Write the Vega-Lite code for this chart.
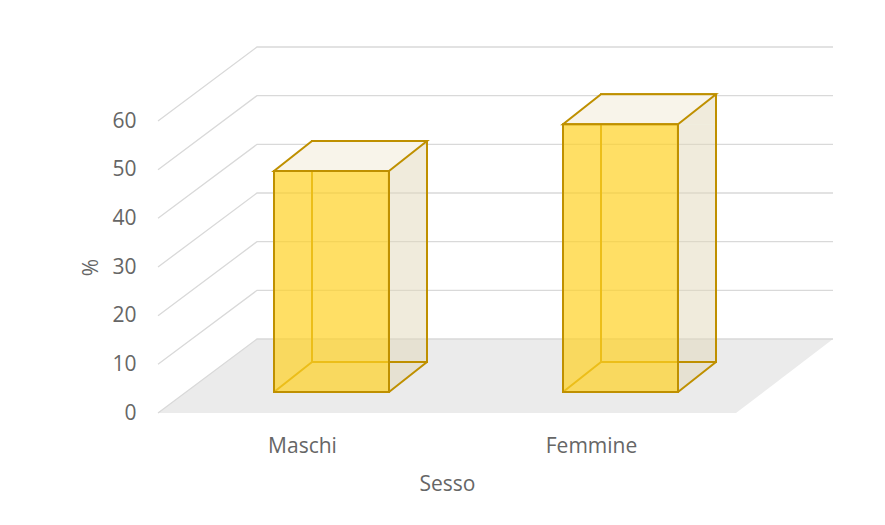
{
  "$schema": "https://vega.github.io/schema/vega-lite/v6.json",
  "autosize": "none",
  "width": 578,
  "height": 292,
  "padding": {"left": 158, "top": 121, "right": 149, "bottom": 112},
  "background": "white",
  "config": {
    "view": {"stroke": null},
    "font": "Open Sans",
    "axis": {"labelColor": "#666666", "titleColor": "#666666", "titleFontWeight": "normal", "labelFontSize": 21, "titleFontSize": 21, "ticks": false, "domain": false, "grid": false, "labelFont": "Open Sans", "titleFont": "Open Sans"}
  },
  "datasets": {
    "bars": [
      {"Sesso": "Maschi", "pct": 45.4},
      {"Sesso": "Femmine", "pct": 55.0}
    ],
    "ticks": [
      {"v": 0}, {"v": 10}, {"v": 20}, {"v": 30}, {"v": 40}, {"v": 50}, {"v": 60}
    ]
  },
  "resolve": {"scale": {"y": "shared", "x": "shared"}},
  "layer": [
    {
      "data": {"name": "ticks"},
      "transform": [{"filter": "datum.v == 0"}],
      "mark": {"type": "point", "shape": "M-289,0L289,0L386,-74L-190,-74Z", "size": 4, "filled": true, "fill": "#EBEBEB", "strokeWidth": 0, "opacity": 1},
      "encoding": {"y": {"field": "v", "type": "quantitative", "scale": {"domain": [0, 60], "nice": false}, "axis": {"values": [0, 10, 20, 30, 40, 50, 60], "labelPadding": 22, "title": "%", "titlePadding": 10}}}
    },
    {
      "data": {"name": "ticks"},
      "mark": {"type": "point", "shape": "M-289,0L-190,-74L386,-74", "size": 4, "filled": false, "stroke": "#D9D9D9", "strokeWidth": 1.3, "opacity": 1},
      "encoding": {"y": {"field": "v", "type": "quantitative"}}
    },
    {
      "data": {"name": "bars"},
      "mark": {"type": "bar", "width": 40, "xOffset": 104.5, "yOffset": -21, "y2Offset": -51, "color": "#E1D7B9", "opacity": 0.5},
      "encoding": {
        "x": {"field": "Sesso", "type": "nominal", "sort": ["Maschi", "Femmine"], "scale": {"paddingInner": 0, "paddingOuter": 0}, "axis": {"labelAngle": 0, "labelPadding": 22, "title": "Sesso", "titlePadding": 17}},
        "y": {"field": "pct", "type": "quantitative"},
        "y2": {"datum": 0}
      }
    },
    {
      "data": {"name": "bars"},
      "mark": {"type": "point", "shape": "M86.5,-21L124.5,-51L124.5,-21Z", "size": 4, "filled": true, "fill": "#E1D7B9", "opacity": 0.5, "strokeWidth": 0},
      "encoding": {
        "x": {"field": "Sesso", "type": "nominal", "sort": ["Maschi", "Femmine"]},
        "y": {"field": "pct", "type": "quantitative"}
      }
    },
    {
      "data": {"name": "bars"},
      "mark": {"type": "point", "shape": "M86.5,-51L124.5,-51L86.5,-21Z", "size": 4, "filled": true, "fill": "#E1D7B9", "opacity": 0.5, "strokeWidth": 0},
      "encoding": {
        "x": {"field": "Sesso", "type": "nominal", "sort": ["Maschi", "Femmine"]},
        "y": {"datum": 0}
      }
    },
    {
      "data": {"name": "bars"},
      "mark": {"type": "bar", "width": 115, "xOffset": 67, "yOffset": -51, "y2Offset": -51, "fillOpacity": 0, "stroke": "#BF9000", "strokeWidth": 2},
      "encoding": {
        "x": {"field": "Sesso", "type": "nominal", "sort": ["Maschi", "Femmine"]},
        "y": {"field": "pct", "type": "quantitative"},
        "y2": {"datum": 0}
      }
    },
    {
      "data": {"name": "bars"},
      "mark": {"type": "point", "shape": "M-28.5,-21L86.5,-21L124.5,-51L9.5,-51Z", "size": 4, "filled": true, "fill": "#F8F4EA", "stroke": "#BF9000", "strokeWidth": 2, "opacity": 1},
      "encoding": {
        "x": {"field": "Sesso", "type": "nominal", "sort": ["Maschi", "Femmine"]},
        "y": {"field": "pct", "type": "quantitative"}
      }
    },
    {
      "data": {"name": "bars"},
      "mark": {"type": "point", "shape": "M-28.5,-21L9.5,-51M86.5,-21L124.5,-51", "size": 4, "filled": false, "stroke": "#BF9000", "strokeWidth": 2, "opacity": 1},
      "encoding": {
        "x": {"field": "Sesso", "type": "nominal", "sort": ["Maschi", "Femmine"]},
        "y": {"datum": 0}
      }
    },
    {
      "data": {"name": "bars"},
      "mark": {"type": "bar", "width": 115, "xOffset": 29, "yOffset": -21, "y2Offset": -21, "fill": "#FFD224", "fillOpacity": 0.7, "stroke": "#BF9000", "strokeWidth": 2},
      "encoding": {
        "x": {"field": "Sesso", "type": "nominal", "sort": ["Maschi", "Femmine"]},
        "y": {"field": "pct", "type": "quantitative"},
        "y2": {"datum": 0}
      }
    }
  ]
}
